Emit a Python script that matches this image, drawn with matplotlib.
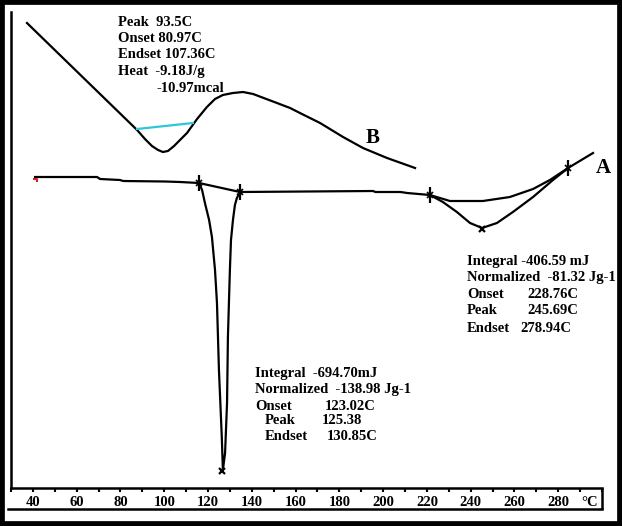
import matplotlib
matplotlib.use("Agg")
import matplotlib.pyplot as plt
from matplotlib.patches import Rectangle

plt.rcParams["font.family"] = ["Liberation Serif", "DejaVu Serif"]

# curve B (upper DSC trace), temperature in C vs signal (arbitrary units)
b_temp = [37.3, 87.6, 91.2, 94.4, 97.2, 99.4, 101.7, 104.5, 107.2, 110.4, 115.0,
          119.5, 123.2, 126.8, 131.4, 136.0, 140.6, 151.5, 157.5, 162.0, 171.2,
          181.7, 190.8, 201.8, 214.6]
b_sig = [465, 358, 349, 342, 338, 336, 337, 342, 348, 355, 369,
         381, 389, 393, 395, 396, 394, 385, 380, 375, 365,
         351, 340, 330, 320]
b_base_temp = [87.6, 113.1]
b_base_sig = [359, 365]

# curve A (lower DSC trace)
a_temp = [41.0, 69.3, 70.7, 79.8, 81.2, 100.4, 107.2, 115.9,
          117.3, 118.6, 120.5, 121.8, 123.2, 124.1, 125.0, 126.3, 126.8,
          127.8, 128.7, 129.1, 130.0, 130.5, 131.4, 132.3, 133.2, 134.6,
          195.4, 196.5, 208.0, 211.0, 221.4,
          227.3, 233.7, 239.7, 245.2, 252.0, 259.3, 268.5, 277.6, 284.5, 295.9]
a_sig = [311, 311, 309, 308, 307, 306.5, 306, 305,
         298, 285, 268, 251, 218, 185, 118, 51, 18,
         35, 85, 151, 218, 248, 268, 283, 290, 296,
         297, 296, 296, 295, 293,
         286, 276, 265, 260, 265, 276, 291, 308, 320, 335]
a1_base_temp = [115.9, 134.6]
a1_base_sig = [305, 296]
a2_base_temp = [221.4, 230.5, 245.6, 257.9, 268.5, 276.2, 284.5]
a2_base_sig = [293, 287, 287, 291, 299, 308, 320]

limit_temp = [115.9, 134.6, 221.4, 284.5]
limit_sig = [305, 296, 293, 320]
peak_temp = [126.5, 245.2]
peak_sig = [17, 259]

tick_labels = [40, 60, 80, 100, 120, 140, 160, 180, 200, 220, 240, 260, 280]

fig = plt.figure(figsize=(6.22, 5.26), dpi=100)
ax = fig.add_axes([11 / 622, 38 / 526, 591 / 622, 476 / 526])
ax.set_xlim(30, 300)
ax.set_ylim(0, 476)

lw = 1.6
ax.plot(b_temp, b_sig, color="black", lw=lw)
ax.plot(b_base_temp, b_base_sig, color="#2cc7d8", lw=1.6)
ax.plot(a_temp, a_sig, color="black", lw=lw)
ax.plot(a1_base_temp, a1_base_sig, color="black", lw=lw)
ax.plot(a2_base_temp, a2_base_sig, color="black", lw=lw)
ax.plot(limit_temp, limit_sig, ls="none", marker="|", ms=11, mew=1.6, color="black")
ax.plot(limit_temp, limit_sig, ls="none", marker="x", ms=4, mew=1.2, color="black")
ax.plot(peak_temp, peak_sig, ls="none", marker="x", ms=5, mew=1.6, color="black")
ax.plot(a_temp[:1], [a_sig[0] - 2], ls="none", color="#d02020", mew=1.4, ms=4,
        marker=[(-1, 0), (1, 0), (1, -1.5)], fillstyle="none")

# axis styling
for s in ["top", "right"]:
    ax.spines[s].set_visible(False)
ax.spines["left"].set_linewidth(1.8)
ax.spines["bottom"].set_linewidth(1.8)
ax.set_yticks([])
ticks = list(range(30, 301, 10))
ax.set_xticks(ticks)
ax.set_xticklabels([str(t) if t in tick_labels else "" for t in ticks],
                   fontsize=10.5, fontweight="bold")
ax.tick_params(axis="x", direction="out", length=3, width=1.5, pad=2.5)
ax.text(294.5, -14, "°C", ha="center", va="center", fontsize=10.5, fontweight="bold")
ax.axhline(-21, xmin=-0.005, xmax=1, color="black", lw=1.8, clip_on=False)
ax.vlines(300, -21, 0, color="black", lw=1.8, clip_on=False)

txt = dict(fontsize=10.5, fontweight="bold", va="center", ha="left")
ax.text(78.9, 466, "Peak  93.5C", **txt)
ax.text(78.9, 450, "Onset 80.97C", **txt)
ax.text(78.9, 433, "Endset 107.36C", **txt)
ax.text(78.9, 416, "Heat  -9.18J/g", **txt)
ax.text(96.7, 400, "-10.97mcal", **txt)

ax.text(141.5, 115, "Integral  -694.70mJ", **txt)
ax.text(141.5, 98, "Normalized  -138.98 Jg-1", **txt)
ax.text(141.5, 82, "Onset", **txt)
ax.text(173.4, 82, "123.02C", **txt)
ax.text(146.0, 67, "Peak", **txt)
ax.text(172.1, 67, "125.38", **txt)
ax.text(146.0, 51, "Endset", **txt)
ax.text(174.4, 51, "130.85C", **txt)

ax.text(238.3, 227, "Integral -406.59 mJ", **txt)
ax.text(238.3, 210, "Normalized  -81.32 Jg-1", **txt)
ax.text(238.3, 194, "Onset", **txt)
ax.text(265.7, 194, "228.76C", **txt)
ax.text(238.3, 177, "Peak", **txt)
ax.text(265.7, 177, "245.69C", **txt)
ax.text(238.3, 160, "Endset", **txt)
ax.text(262.5, 160, "278.94C", **txt)

ax.text(195.4, 350, "B", fontsize=15, fontweight="bold", ha="center", va="center")
ax.text(300.5, 320, "A", fontsize=15, fontweight="bold", ha="center", va="center")

fig.add_artist(Rectangle((0, 0), 1, 1, transform=fig.transFigure, fill=False,
                         lw=7, edgecolor="black"))

fig.savefig("out.png", dpi=100)
